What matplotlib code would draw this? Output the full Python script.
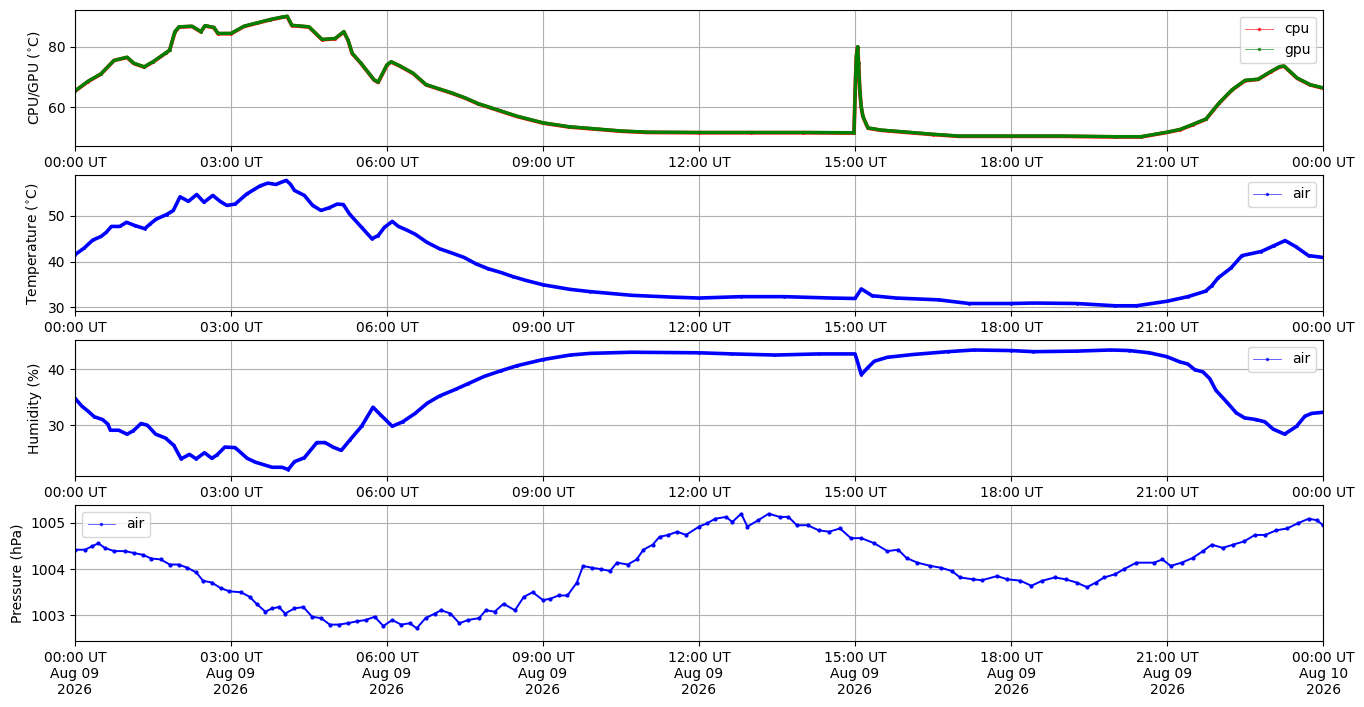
import numpy as np
import pandas as pd
import matplotlib
matplotlib.use("Agg")
import matplotlib.pyplot as plt
import matplotlib.dates as mdates
from matplotlib.lines import Line2D
from matplotlib.ticker import MultipleLocator

# readings, hours after 00:00 UT on 2026-08-09
cpu_h = [0, 0.25, 0.5, 0.75, 1.0, 1.13, 1.33, 1.5, 1.75, 1.82, 1.92, 2.0, 2.25, 2.42, 2.5, 2.67,
         2.75, 3.0, 3.25, 3.5, 3.75, 4.0, 4.08, 4.17, 4.5, 4.75, 5.0, 5.17, 5.25, 5.33, 5.5, 5.75,
         5.83, 6.0, 6.08, 6.25, 6.5, 6.75, 7.0, 7.25, 7.5, 7.75, 8.0, 8.5, 9.0, 9.5, 10.0, 10.5,
         11.0, 12.0, 13.0, 14.0, 14.98, 15.01, 15.025, 15.05, 15.067, 15.092, 15.117, 15.15, 15.217,
         15.25, 15.5, 16.0, 16.5, 17.0, 18.0, 19.0, 20.0, 20.5, 21.0, 21.25, 21.5, 21.75, 22.0, 22.25,
         22.5, 22.75, 23.0, 23.17, 23.25, 23.33, 23.5, 23.75, 24.0]
cpu_v = [65.3, 68.5, 71.0, 75.5, 76.5, 74.5, 73.3, 75.0, 78.0, 78.9, 84.9, 86.6, 86.8, 85.0, 87.0, 86.4,
         84.4, 84.4, 86.8, 87.9, 89.0, 89.9, 90.1, 87.1, 86.6, 82.4, 82.7, 85.0, 82.2, 77.8, 74.5, 69.0,
         68.2, 74.0, 75.0, 73.6, 71.2, 67.4, 66.0, 64.6, 63.0, 61.1, 59.7, 56.9, 54.7, 53.4, 52.7, 52.0,
         51.6, 51.5, 51.5, 51.5, 51.4, 70.0, 76.7, 80.0, 74.5, 65.2, 60.2, 56.9, 54.2,
         53.0, 52.3, 51.6, 50.9, 50.3, 50.3, 50.3, 50.1, 50.1, 51.6, 52.5, 54.2, 56.0, 61.3, 65.7,
         68.8, 69.2, 71.8, 73.4, 73.6, 72.3, 69.6, 67.4, 66.3]
gpu_v = [65.4, 68.6, 71.1, 75.5, 76.6, 74.6, 73.4, 75.1, 78.1, 79.0, 85.1, 86.7, 86.9, 85.1, 87.1, 86.5,
         84.5, 84.5, 86.9, 88.0, 89.1, 90.0, 90.2, 87.2, 86.7, 82.5, 82.8, 85.1, 82.3, 77.9, 74.6, 69.1,
         68.4, 74.1, 75.1, 73.7, 71.3, 67.5, 66.1, 64.7, 63.1, 61.2, 59.8, 57.0, 54.8, 53.5, 52.8, 52.1,
         51.7, 51.6, 51.6, 51.6, 51.5, 70.3, 76.9, 80.1, 74.7, 65.4, 60.3, 57.0, 54.3,
         53.1, 52.4, 51.7, 51.0, 50.4, 50.4, 50.4, 50.2, 50.2, 51.7, 52.6, 54.3, 56.1, 61.4, 65.8,
         68.9, 69.3, 71.9, 73.5, 73.7, 72.4, 69.7, 67.5, 66.4]

temp_h = [0.0, 0.18, 0.34, 0.5, 0.6, 0.7, 0.86, 0.99, 1.15, 1.34, 1.44, 1.56, 1.76, 1.89, 2.02, 2.18,
          2.34, 2.48, 2.65, 2.79, 2.92, 3.08, 3.3, 3.56, 3.71, 3.86, 4.06, 4.14, 4.22, 4.41, 4.57,
          4.73, 4.89, 5.04, 5.16, 5.28, 5.51, 5.71, 5.83, 5.95, 6.10, 6.22, 6.38, 6.54, 6.77, 7.01,
          7.24, 7.48, 7.71, 7.95, 8.19, 8.42, 8.66, 9.0, 9.52, 9.91, 10.7, 11.48, 12.0, 12.81, 13.64,
          14.55, 15.0, 15.12, 15.33, 15.79, 16.61, 17.19, 18.0, 18.43, 19.26, 20.0, 20.41, 21.0,
          21.4, 21.74, 21.86, 21.98, 22.23, 22.44, 22.81, 23.06, 23.27, 23.47, 23.72, 24.0]
temp_v = [41.5, 43.0, 44.7, 45.5, 46.4, 47.7, 47.7, 48.6, 47.9, 47.2, 48.2, 49.3, 50.3, 51.2, 54.2, 53.2,
          54.7, 53.0, 54.5, 53.2, 52.3, 52.6, 54.8, 56.6, 57.2, 56.9, 57.8, 57.0, 55.6, 54.5, 52.3,
          51.2, 51.8, 52.6, 52.5, 50.4, 47.5, 45.0, 45.7, 47.5, 48.8, 47.7, 46.9, 46.0, 44.2, 42.8,
          41.9, 40.9, 39.5, 38.4, 37.6, 36.7, 35.9, 34.9, 33.9, 33.4, 32.6, 32.2, 32.0, 32.3, 32.3,
          32.0, 31.9, 34.0, 32.5, 32.0, 31.6, 30.8, 30.8, 30.9, 30.8, 30.3, 30.3, 31.3,
          32.3, 33.5, 34.7, 36.4, 38.6, 41.3, 42.2, 43.5, 44.6, 43.3, 41.3, 40.9]

hum_h = [0.0, 0.13, 0.25, 0.37, 0.53, 0.63, 0.68, 0.84, 1.0, 1.12, 1.27, 1.39, 1.55, 1.74, 1.9, 2.04,
         2.2, 2.33, 2.49, 2.63, 2.73, 2.88, 3.08, 3.31, 3.47, 3.79, 3.98, 4.1, 4.22, 4.41, 4.65, 4.81,
         4.96, 5.12, 5.28, 5.51, 5.73, 5.87, 6.1, 6.3, 6.54, 6.77, 7.01, 7.32, 7.56, 7.87, 8.19, 8.5,
         9.0, 9.52, 9.91, 10.7, 12.0, 12.64, 13.47, 14.3, 15.0, 15.06, 15.12, 15.25, 15.37, 15.62,
         16.12, 16.78, 17.28, 18.0, 18.43, 19.26, 19.92, 20.27, 20.66, 21.0, 21.24, 21.4, 21.53,
         21.69, 21.82, 21.94, 22.14, 22.33, 22.49, 22.71, 22.88, 23.04, 23.26, 23.49, 23.65, 23.78,
         24.0]
hum_v = [34.8, 33.4, 32.5, 31.5, 31.0, 30.2, 29.1, 29.1, 28.4, 29.0, 30.3, 30.0, 28.4, 27.7, 26.4, 24.0,
         24.8, 24.0, 25.1, 24.1, 24.7, 26.1, 26.0, 24.1, 23.4, 22.5, 22.5, 22.1, 23.5, 24.2, 26.9, 26.9,
         26.1, 25.5, 27.3, 29.8, 33.2, 31.9, 29.8, 30.6, 32.1, 33.9, 35.2, 36.4, 37.4, 38.7, 39.7, 40.6,
         41.7, 42.5, 42.8, 43.0, 42.9, 42.7, 42.5, 42.7, 42.7, 40.9, 39.0, 40.3, 41.4, 42.1,
         42.6, 43.1, 43.4, 43.3, 43.1, 43.2, 43.4, 43.3, 42.9, 42.2, 41.3, 40.9, 39.9,
         39.5, 38.3, 36.2, 34.2, 32.2, 31.3, 31.0, 30.6, 29.3, 28.4, 29.8, 31.6, 32.1,
         32.3]

pres_h = [0.0, 0.19, 0.32, 0.45, 0.57, 0.75, 0.96, 1.13, 1.3, 1.47, 1.65, 1.82, 1.99, 2.16, 2.33, 2.46,
          2.63, 2.8, 2.97, 3.19, 3.36, 3.49, 3.66, 3.79, 3.92, 4.04, 4.22, 4.39, 4.56, 4.73, 4.9, 5.07,
          5.24, 5.42, 5.59, 5.76, 5.93, 6.1, 6.27, 6.44, 6.57, 6.74, 6.92, 7.04, 7.22, 7.39, 7.56,
          7.77, 7.9, 8.07, 8.24, 8.46, 8.63, 8.8, 9.0, 9.14, 9.3, 9.47, 9.65, 9.77, 9.94, 10.11,
          10.29, 10.42, 10.63, 10.8, 10.93, 11.11, 11.24, 11.41, 11.58, 11.75, 12.0, 12.15, 12.31,
          12.52, 12.64, 12.81, 12.93, 13.14, 13.34, 13.55, 13.72, 13.88, 14.09, 14.3, 14.5, 14.71,
          14.92, 15.12, 15.37, 15.62, 15.83, 15.99, 16.2, 16.45, 16.65, 16.86, 17.02, 17.27, 17.44,
          17.73, 17.93, 18.18, 18.39, 18.6, 18.84, 19.05, 19.26, 19.46, 19.63, 19.79, 20.0, 20.17,
          20.41, 20.75, 20.91, 21.07, 21.28, 21.49, 21.69, 21.86, 22.07, 22.27, 22.48, 22.69, 22.89,
          23.1, 23.31, 23.51, 23.72, 23.88, 24.0]
pres_v = [1004.42, 1004.42, 1004.49, 1004.56, 1004.46, 1004.39, 1004.39, 1004.35, 1004.31, 1004.23,
          1004.21, 1004.10, 1004.10, 1004.03, 1003.93, 1003.75, 1003.71, 1003.59, 1003.52, 1003.50,
          1003.40, 1003.25, 1003.08, 1003.15, 1003.18, 1003.04, 1003.15, 1003.18, 1002.97, 1002.94,
          1002.80, 1002.80, 1002.83, 1002.87, 1002.90, 1002.97, 1002.77, 1002.90, 1002.80, 1002.83,
          1002.72, 1002.94, 1003.04, 1003.11, 1003.04, 1002.83, 1002.90, 1002.94, 1003.11, 1003.08,
          1003.25, 1003.11, 1003.40, 1003.50, 1003.33, 1003.36, 1003.43, 1003.43, 1003.71, 1004.07,
          1004.03, 1004.00, 1003.96, 1004.14, 1004.10, 1004.21, 1004.42, 1004.53, 1004.70, 1004.74,
          1004.81, 1004.74, 1004.92, 1004.99, 1005.09, 1005.13, 1005.02, 1005.20, 1004.92, 1005.06,
          1005.20, 1005.13, 1005.13, 1004.95, 1004.95, 1004.84, 1004.81, 1004.88, 1004.67, 1004.67,
          1004.56, 1004.39, 1004.42, 1004.24, 1004.14, 1004.07, 1004.03, 1003.96, 1003.82, 1003.78,
          1003.76, 1003.85, 1003.78, 1003.75, 1003.64, 1003.75, 1003.82, 1003.78, 1003.71, 1003.61,
          1003.71, 1003.82, 1003.89, 1004.00, 1004.14, 1004.14, 1004.21, 1004.07, 1004.14, 1004.24,
          1004.39, 1004.53, 1004.46, 1004.53, 1004.60, 1004.74, 1004.74, 1004.84, 1004.88, 1004.99,
          1005.09, 1005.06, 1004.95]

day = pd.Timestamp("2026-08-09 00:00")


def to_time(hours):
    return day + pd.to_timedelta(hours, unit="h")


def proxy(color):
    return Line2D([], [], color=color, lw=0.6, alpha=0.7, marker=".", ms=3,
                  markerfacecolor=color, markeredgecolor=color)


fig, axes = plt.subplots(4, 1, figsize=(13.64, 7.07), dpi=100)
fig.subplots_adjust(left=0.055, right=0.970, top=0.986, bottom=0.093, hspace=0.21)

ax = axes[0]
ax.plot(to_time(cpu_h), cpu_v, color="r", lw=2.7, marker=".", ms=2)
ax.plot(to_time(cpu_h), gpu_v, color="g", lw=2.4, marker=".", ms=2)
ax.set_ylim(47, 92.3)
ax.yaxis.set_major_locator(MultipleLocator(20))
ax.set_ylabel("CPU/GPU ($^{\\circ}$C)")
ax.legend([proxy("r"), proxy("g")], ["cpu", "gpu"], loc="upper right")

ax = axes[1]
ax.plot(to_time(temp_h), temp_v, color="b", lw=2.6, marker=".", ms=2)
ax.set_ylim(29.1, 59.0)
ax.yaxis.set_major_locator(MultipleLocator(10))
ax.set_ylabel("Temperature ($^{\\circ}$C)")
ax.legend([proxy("b")], ["air"], loc="upper right")

ax = axes[2]
ax.plot(to_time(hum_h), hum_v, color="b", lw=2.6, marker=".", ms=2)
ax.set_ylim(20.9, 45.2)
ax.yaxis.set_major_locator(MultipleLocator(10))
ax.set_ylabel("Humidity (%)")
ax.legend([proxy("b")], ["air"], loc="upper right")

ax = axes[3]
ax.plot(to_time(pres_h), pres_v, color="b", lw=1.4, marker=".", ms=4)
ax.set_ylim(1002.44, 1005.39)
ax.yaxis.set_major_locator(MultipleLocator(1))
ax.yaxis.set_major_formatter(plt.FormatStrFormatter("%d"))
ax.set_ylabel("Pressure (hPa)")
ax.legend([proxy("b")], ["air"], loc="upper left")

for i, ax in enumerate(axes):
    ax.set_xlim(day, day + pd.Timedelta(hours=24))
    ax.xaxis.set_major_locator(mdates.HourLocator(byhour=range(0, 24, 3)))
    if i < 3:
        ax.xaxis.set_major_formatter(mdates.DateFormatter("%H:%M UT"))
    else:
        ax.xaxis.set_major_formatter(mdates.DateFormatter("%H:%M UT\n%b %d\n%Y"))
    ax.grid(True)

fig.savefig("out.png", dpi=100)
